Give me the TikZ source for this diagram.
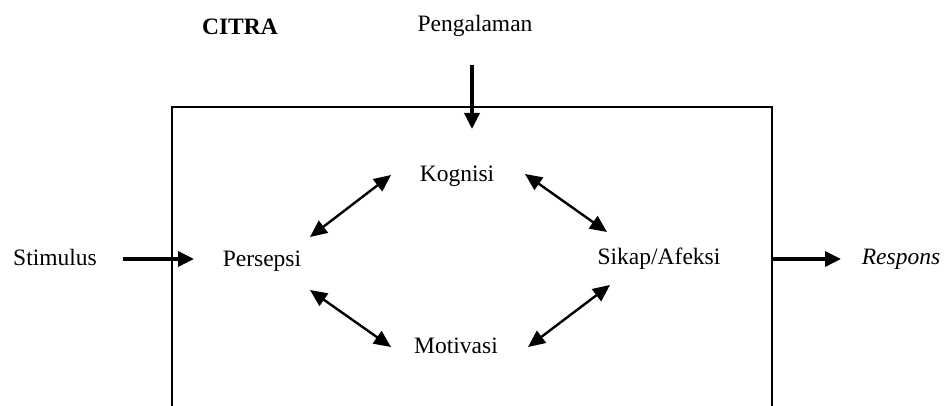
\documentclass[tikz,border=0pt]{standalone}
\usepackage{fontspec}
\setmainfont{Liberation Serif}
\usetikzlibrary{arrows.meta}
\begin{document}
\begin{tikzpicture}[x=1pt,y=-1pt,
  lbl/.style={anchor=base,inner sep=0pt,font=\fontsize{23.5}{28}\selectfont},
  bigarrow/.style={line width=3.5pt,-{Triangle[length=16pt,width=15pt]}},
  dblarrow/.style={line width=2.4pt,{Triangle[length=17pt,width=15pt]}-{Triangle[length=17pt,width=15pt]}},
  frame/.style={line width=2pt}]
\useasboundingbox (0,0) rectangle (946,406);
% frame (open at bottom)
\draw[frame] (172,406) -- (172,107) -- (772,107) -- (772,406);
% labels
\node[lbl,font=\fontsize{23.5}{28}\selectfont\bfseries] (citra) at (240,35) {CITRA};
\node[lbl] (peng) at (475,32) {Pengalaman};
\node[lbl] (stim) at (55,266) {Stimulus};
\node[lbl] (pers) at (262,267) {Persepsi};
\node[lbl] (kog) at (457,182) {Kognisi};
\node[lbl] (mot) at (456,353) {Motivasi};
\node[lbl] (sik) at (659,265) {Sikap/Afeksi};
\node[lbl,font=\fontsize{23.5}{28}\selectfont\itshape] (resp) at (901,265) {Respons};
% arrow end coordinates
\coordinate (pA) at (472,65);
\coordinate (pB) at (472,129);
\coordinate (sA) at (123,259);
\coordinate (sB) at (194,259);
\coordinate (rA) at (772,259);
\coordinate (rB) at (841,259);
\coordinate (pk1) at (310,237);
\coordinate (pk2) at (391,175);
\coordinate (pm1) at (310,290);
\coordinate (pm2) at (391,347);
\coordinate (ks1) at (525,174);
\coordinate (ks2) at (607,232);
\coordinate (sm1) at (610,285);
\coordinate (sm2) at (528,347);
% arrows
\draw[bigarrow] (pA) -- (pB);
\draw[bigarrow] (sA) -- (sB);
\draw[bigarrow] (rA) -- (rB);
\draw[dblarrow] (pk1) -- (pk2);
\draw[dblarrow] (pm1) -- (pm2);
\draw[dblarrow] (ks1) -- (ks2);
\draw[dblarrow] (sm1) -- (sm2);
\end{tikzpicture}
\end{document}
